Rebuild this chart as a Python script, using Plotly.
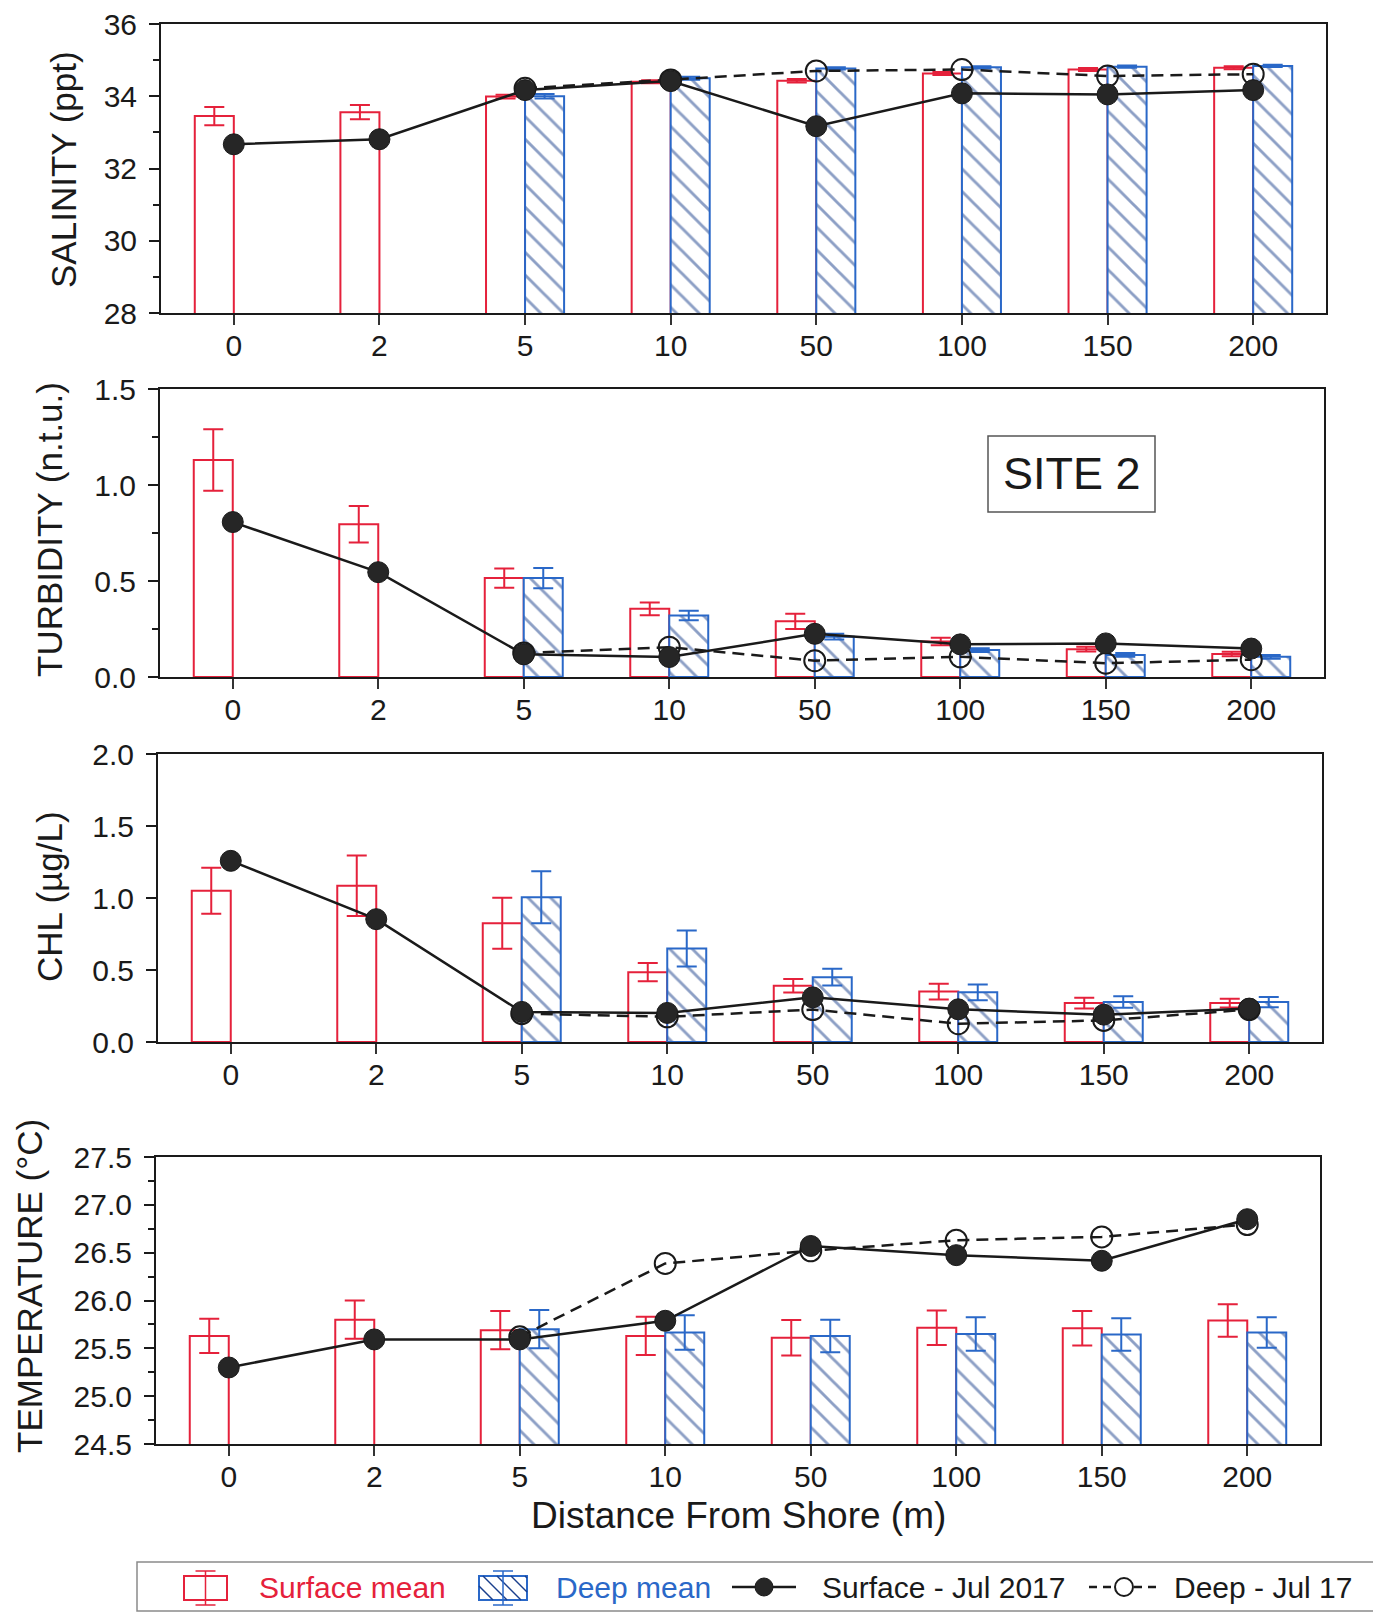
import plotly.graph_objects as go
from plotly.subplots import make_subplots

# Sampling stations (distance from shore, m)
distance = ["0", "2", "5", "10", "50", "100", "150", "200"]

# Salinity (ppt)
sal_surf_mean = [33.45, 33.56, 33.99, 34.40, 34.43, 34.63, 34.74, 34.79]
sal_surf_err = [0.25, 0.20, 0.05, 0.04, 0.05, 0.04, 0.04, 0.04]
sal_deep_mean = [None, None, 34.00, 34.50, 34.77, 34.80, 34.82, 34.84]
sal_deep_err = [None, None, 0.06, 0.04, 0.03, 0.03, 0.03, 0.03]
sal_surf_jul = [32.67, 32.81, 34.17, 34.42, 33.17, 34.08, 34.05, 34.17]
sal_deep_jul = [None, None, 34.22, 34.45, 34.70, 34.74, 34.56, 34.61]

# Turbidity (n.t.u.)
tur_surf_mean = [1.13, 0.795, 0.515, 0.355, 0.29, 0.185, 0.145, 0.12]
tur_surf_err = [0.16, 0.095, 0.05, 0.033, 0.04, 0.02, 0.012, 0.012]
tur_deep_mean = [None, None, 0.515, 0.32, 0.21, 0.14, 0.115, 0.105]
tur_deep_err = [None, None, 0.053, 0.025, 0.015, 0.01, 0.01, 0.01]
tur_surf_jul = [0.807, 0.546, 0.118, 0.104, 0.225, 0.17, 0.175, 0.148]
tur_deep_jul = [None, None, 0.125, 0.155, 0.085, 0.105, 0.072, 0.09]

# Chlorophyll (ug/L)
chl_surf_mean = [1.05, 1.085, 0.825, 0.485, 0.39, 0.35, 0.27, 0.27]
chl_surf_err = [0.16, 0.21, 0.177, 0.063, 0.047, 0.054, 0.037, 0.03]
chl_deep_mean = [None, None, 1.005, 0.65, 0.45, 0.345, 0.277, 0.277]
chl_deep_err = [None, None, 0.18, 0.125, 0.058, 0.055, 0.04, 0.035]
chl_surf_jul = [1.258, 0.853, 0.209, 0.202, 0.31, 0.227, 0.19, 0.232]
chl_deep_jul = [None, None, 0.197, 0.175, 0.225, 0.127, 0.15, 0.225]

# Temperature (deg C)
tmp_surf_mean = [25.63, 25.80, 25.69, 25.63, 25.61, 25.715, 25.71, 25.79]
tmp_surf_err = [0.18, 0.20, 0.20, 0.20, 0.185, 0.18, 0.18, 0.17]
tmp_deep_mean = [None, None, 25.70, 25.665, 25.63, 25.65, 25.645, 25.665]
tmp_deep_err = [None, None, 0.20, 0.18, 0.17, 0.175, 0.17, 0.16]
tmp_surf_jul = [25.30, 25.593, 25.593, 25.788, 26.57, 26.474, 26.415, 26.85]
tmp_deep_jul = [None, None, 25.62, 26.387, 26.52, 26.63, 26.665, 26.794]

W, H = 1373, 1613
FONT = "Liberation Sans, Arial, sans-serif"
RED = "#e5213b"
BLUE = "#2a68c8"
HATCH = "#1a3f8c"
INK = "#1a1a1a"
DOT = "#262626"


def px_x(x):
    return x / W


def px_y(y):
    return 1 - y / H


panels = [
    dict(surf=sal_surf_mean, surf_err=sal_surf_err, deep=sal_deep_mean, deep_err=sal_deep_err,
         surf_jul=sal_surf_jul, deep_jul=sal_deep_jul, yrange=[28, 36], tick0=28, dtick=2,
         minor=1, fmt="d", title="SALINITY (ppt)", xdom=(161, 1326), ydom=(24, 313), tpos=(64, 170)),
    dict(surf=tur_surf_mean, surf_err=tur_surf_err, deep=tur_deep_mean, deep_err=tur_deep_err,
         surf_jul=tur_surf_jul, deep_jul=tur_deep_jul, yrange=[0, 1.5], tick0=0, dtick=0.5,
         minor=0.25, fmt=".1f", title="TURBIDITY (n.t.u.)", xdom=(160, 1324), ydom=(389, 677), tpos=(50, 530)),
    dict(surf=chl_surf_mean, surf_err=chl_surf_err, deep=chl_deep_mean, deep_err=chl_deep_err,
         surf_jul=chl_surf_jul, deep_jul=chl_deep_jul, yrange=[0, 2.0], tick0=0, dtick=0.5,
         minor=None, fmt=".1f", title="CHL (µg/L)", xdom=(158, 1322), ydom=(754, 1042), tpos=(49, 897)),
    dict(surf=tmp_surf_mean, surf_err=tmp_surf_err, deep=tmp_deep_mean, deep_err=tmp_deep_err,
         surf_jul=tmp_surf_jul, deep_jul=tmp_deep_jul, yrange=[24.5, 27.5], tick0=24.5, dtick=0.5,
         minor=0.25, fmt=".1f", title="TEMPERATURE (°C)", xdom=(156, 1320), ydom=(1157, 1444), tpos=(29, 1286)),
]

fig = make_subplots(rows=4, cols=1)

annotations = []
shapes = []

for i, p in enumerate(panels, start=1):
    fig.add_trace(go.Bar(
        x=distance, y=p["surf"],
        error_y=dict(type="data", array=p["surf_err"], color=RED, thickness=2, width=10),
        marker=dict(color="white", line=dict(color=RED, width=2)),
        showlegend=False, name="Surface mean"), row=i, col=1)
    fig.add_trace(go.Bar(
        x=distance, y=p["deep"],
        error_y=dict(type="data", array=p["deep_err"], color=BLUE, thickness=2, width=10),
        marker=dict(color="white", line=dict(color=BLUE, width=2),
                    pattern=dict(shape="\\", fgcolor=HATCH, bgcolor="white", size=16, solidity=0.18)),
        showlegend=False, name="Deep mean"), row=i, col=1)
    fig.add_trace(go.Scatter(
        x=distance, y=p["deep_jul"], mode="lines+markers",
        line=dict(color=INK, width=2.5, dash="12px,7px"),
        marker=dict(symbol="circle-open", size=21, color=INK, line=dict(width=2)),
        showlegend=False, name="Deep - Jul 17"), row=i, col=1)
    fig.add_trace(go.Scatter(
        x=distance, y=p["surf_jul"], mode="lines+markers",
        line=dict(color=INK, width=2.5),
        marker=dict(symbol="circle", size=21, color=DOT, line=dict(color=INK, width=1)),
        showlegend=False, name="Surface - Jul 2017"), row=i, col=1)

    fig.update_xaxes(
        row=i, col=1, type="category", categoryorder="array", categoryarray=distance,
        range=[-0.5, 7.5], domain=[px_x(p["xdom"][0]), px_x(p["xdom"][1])],
        ticks="outside", ticklen=10, tickwidth=2, tickcolor="#333", automargin=False,
        showline=True, linecolor=INK, linewidth=2, mirror=True, showgrid=False,
        tickfont=dict(family=FONT, size=30, color=INK), ticklabelstandoff=-5)
    minor = (dict(ticks="outside", dtick=p["minor"], ticklen=6, tickwidth=1.5, tickcolor=INK, showgrid=False)
             if p["minor"] else dict(ticks=""))
    fig.update_yaxes(
        row=i, col=1, range=p["yrange"], domain=[px_y(p["ydom"][1]), px_y(p["ydom"][0])],
        tick0=p["tick0"], dtick=p["dtick"], tickformat=p["fmt"], automargin=False,
        ticks="outside", ticklen=10, tickwidth=2, tickcolor=INK, minor=minor,
        showline=True, linecolor=INK, linewidth=2, mirror=True, showgrid=False, zeroline=False,
        tickfont=dict(family=FONT, size=30, color=INK), ticklabelstandoff=6)

    annotations.append(dict(
        text=p["title"], x=px_x(p["tpos"][0]), y=px_y(p["tpos"][1]), xref="paper", yref="paper",
        xanchor="center", yanchor="middle", textangle=-90, showarrow=False,
        font=dict(family=FONT, size=35, color=INK)))

# x-axis title under the bottom panel
annotations.append(dict(
    text="Distance From Shore (m)", x=px_x(738), y=px_y(1515), xref="paper", yref="paper",
    xanchor="center", yanchor="middle", showarrow=False, font=dict(family=FONT, size=37, color=INK)))

# Site label box
shapes.append(dict(type="rect", xref="paper", yref="paper",
                   x0=px_x(988), x1=px_x(1155), y0=px_y(512), y1=px_y(436),
                   line=dict(color="#555", width=1.5), fillcolor="white"))
annotations.append(dict(
    text="SITE 2", x=px_x(1071.5), y=px_y(474), xref="paper", yref="paper",
    xanchor="center", yanchor="middle", showarrow=False, font=dict(family=FONT, size=45, color=INK)))

# ---- legend strip along the bottom ----
LEG_Y = 1587
shapes.append(dict(type="rect", xref="paper", yref="paper",
                   x0=px_x(137), x1=px_x(1380), y0=px_y(1611), y1=px_y(1562),
                   line=dict(color="#8a8a8a", width=1.5), fillcolor="white"))


def seg(x0, y0, x1, y1, color, width=2, dash=None):
    line = dict(color=color, width=width)
    if dash:
        line["dash"] = dash
    return dict(type="line", xref="paper", yref="paper",
                x0=px_x(x0), y0=px_y(y0), x1=px_x(x1), y1=px_y(y1), line=line)


def bar_icon(x0, x1, color, hatch=None):
    items = [dict(type="rect", xref="paper", yref="paper",
                  x0=px_x(x0), x1=px_x(x1), y0=px_y(1600), y1=px_y(1576),
                  line=dict(color=color, width=2), fillcolor="white")]
    if hatch:
        step = 14
        top, bot = 1576, 1600
        hgt = bot - top
        xs = x0 - hgt
        while xs < x1:
            a_x, a_y = xs, top
            b_x, b_y = xs + hgt, bot
            if a_x < x0:
                a_y = top + (x0 - a_x)
                a_x = x0
            if b_x > x1:
                b_y = bot - (b_x - x1)
                b_x = x1
            if b_x > a_x:
                items.append(seg(a_x, a_y, b_x, b_y, hatch, 1.5))
            xs += step
    cx = (x0 + x1) / 2
    items.append(seg(cx, 1571, cx, 1605, color, 1.5))
    items.append(seg(cx - 10, 1571, cx + 10, 1571, color, 1.5))
    items.append(seg(cx - 10, 1605, cx + 10, 1605, color, 1.5))
    return items


shapes += bar_icon(184, 227, RED)
shapes += bar_icon(479, 527, BLUE, hatch=HATCH)

# solid line with filled dot
shapes.append(seg(732, LEG_Y, 796, LEG_Y, INK, 2.5))
shapes.append(dict(type="circle", xref="paper", yref="paper",
                   x0=px_x(755), x1=px_x(773), y0=px_y(LEG_Y + 9), y1=px_y(LEG_Y - 9),
                   line=dict(color=INK, width=1), fillcolor=DOT))
# dashed line with open circle
shapes.append(seg(1089, LEG_Y, 1114, LEG_Y, INK, 2.5, dash="8px,6px"))
shapes.append(seg(1134, LEG_Y, 1160, LEG_Y, INK, 2.5, dash="8px,6px"))
shapes.append(dict(type="circle", xref="paper", yref="paper",
                   x0=px_x(1115), x1=px_x(1133), y0=px_y(LEG_Y + 9), y1=px_y(LEG_Y - 9),
                   line=dict(color=INK, width=2), fillcolor="rgba(0,0,0,0)"))

for txt, x0, col in [("Surface mean", 257, RED), ("Deep mean", 554, BLUE),
                     ("Surface - Jul 2017", 820, INK), ("Deep - Jul 17", 1172, INK)]:
    annotations.append(dict(
        text=txt, x=px_x(x0), y=px_y(LEG_Y), xref="paper", yref="paper",
        xanchor="left", yanchor="middle", showarrow=False,
        font=dict(family=FONT, size=30, color=col)))

fig.update_layout(
    width=W, height=H, margin=dict(l=0, r=0, t=0, b=0, autoexpand=False),
    paper_bgcolor="white", plot_bgcolor="white",
    barmode="group", bargap=0.464, bargroupgap=0,
    font=dict(family=FONT, color=INK),
    showlegend=False,
    annotations=annotations, shapes=shapes)

fig.write_html("out.html")
